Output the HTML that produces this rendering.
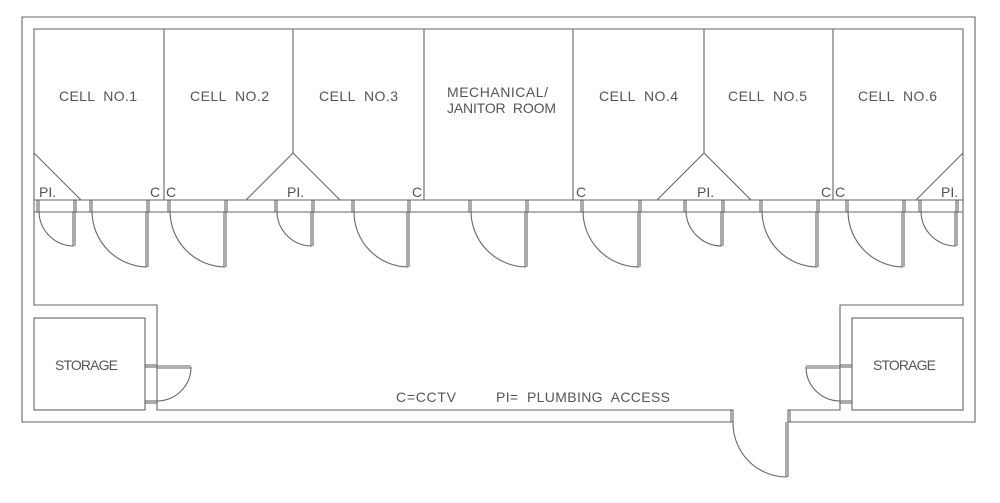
<!DOCTYPE html>
<html><head><meta charset="utf-8"><style>
html,body{margin:0;padding:0;background:#fff;}
svg{display:block;}
text{font-family:"Liberation Sans",sans-serif;fill:#555;font-size:14px;white-space:pre;}
</style></head><body>
<svg width="1000" height="503" viewBox="0 0 1000 503" xmlns="http://www.w3.org/2000/svg">
<g stroke="#666" stroke-width="1.1" fill="none">
<path d="M731,422 H22 V17 H975 V422 H790"/>
<path d="M731,410 H157 V305 H34 V29 H963 V305 H840 V410 H790"/>
<line x1="34" y1="200" x2="963" y2="200"/>
<line x1="34" y1="212" x2="963" y2="212"/>
<line x1="164" y1="29" x2="164" y2="200"/>
<line x1="293" y1="29" x2="293" y2="153"/>
<line x1="424" y1="29" x2="424" y2="200"/>
<line x1="573" y1="29" x2="573" y2="200"/>
<line x1="704" y1="29" x2="704" y2="153"/>
<line x1="833" y1="29" x2="833" y2="200"/>
<path d="M34,153 L81,200"/>
<path d="M246,200 L293,153 L340,200"/>
<path d="M657,200 L704,153 L751,200"/>
<path d="M963,153 L916,200"/>
<rect x="34" y="318" width="111" height="92"/>
<rect x="852" y="318" width="111" height="92"/>
<g>
<rect x="37" y="200" width="2" height="12"/><rect x="74" y="200" width="2" height="12"/><path d="M73,212 V246 M75,212 V246 M39,212 A35 35 0 0 0 74,246"/>
<rect x="90" y="200" width="2" height="12"/><rect x="147" y="200" width="2" height="12"/><path d="M146,212 V267 M148,212 V267 M92,212 A56 56 0 0 0 147,267"/>
<rect x="168" y="200" width="2" height="12"/><rect x="225" y="200" width="2" height="12"/><path d="M224,212 V267 M226,212 V267 M170,212 A56 56 0 0 0 225,267"/>
<rect x="275" y="200" width="2" height="12"/><rect x="312" y="200" width="2" height="12"/><path d="M311,212 V246 M313,212 V246 M277,212 A35 35 0 0 0 312,246"/>
<rect x="352" y="200" width="2" height="12"/><rect x="408" y="200" width="2" height="12"/><path d="M407,212 V267 M409,212 V267 M354,212 A55 55 0 0 0 408,267"/>
<rect x="469" y="200" width="2" height="12"/><rect x="526" y="200" width="2" height="12"/><path d="M525,212 V267 M527,212 V267 M471,212 A56 56 0 0 0 526,267"/>
<rect x="581" y="200" width="2" height="12"/><rect x="639" y="200" width="2" height="12"/><path d="M638,212 V267 M640,212 V267 M583,212 A56 56 0 0 0 639,267"/>
<rect x="684" y="200" width="2" height="12"/><rect x="722" y="200" width="2" height="12"/><path d="M721,212 V246 M723,212 V246 M686,212 A36 36 0 0 0 722,246"/>
<rect x="760" y="200" width="2" height="12"/><rect x="817" y="200" width="2" height="12"/><path d="M816,212 V267 M818,212 V267 M762,212 A56 56 0 0 0 817,267"/>
<rect x="846" y="200" width="2" height="12"/><rect x="903" y="200" width="2" height="12"/><path d="M902,212 V267 M904,212 V267 M848,212 A56 56 0 0 0 903,267"/>
<rect x="919" y="200" width="2" height="12"/><rect x="956" y="200" width="2" height="12"/><path d="M955,212 V246 M957,212 V246 M921,212 A35 35 0 0 0 956,246"/>
</g>
<rect x="145" y="365" width="12" height="2"/><rect x="145" y="401" width="12" height="2"/>
<path d="M157,366 H191 M157,368 H191 M191,367 A34 34 0 0 1 157,401"/>
<rect x="840" y="365" width="12" height="2"/><rect x="840" y="401" width="12" height="2"/>
<path d="M806,366 H840 M806,368 H840 M806,367 A34 34 0 0 0 840,401"/>
<rect x="731" y="410" width="2" height="12"/><rect x="788" y="410" width="2" height="12"/>
<path d="M786,422 V477 M788,422 V477 M733,422 A54 54 0 0 0 787,477"/>
</g>
<g>
<text x="59" y="101" textLength="78" lengthAdjust="spacing">CELL  NO.1</text>
<text x="190" y="101" textLength="79" lengthAdjust="spacing">CELL  NO.2</text>
<text x="319" y="101" textLength="79" lengthAdjust="spacing">CELL  NO.3</text>
<text x="447" y="97" textLength="101" lengthAdjust="spacing">MECHANICAL/</text>
<text x="447" y="113" textLength="109" lengthAdjust="spacing">JANITOR  ROOM</text>
<text x="599" y="101" textLength="79" lengthAdjust="spacing">CELL  NO.4</text>
<text x="728" y="101" textLength="79" lengthAdjust="spacing">CELL  NO.5</text>
<text x="858" y="101" textLength="79" lengthAdjust="spacing">CELL  NO.6</text>
<text x="39" y="197">PI.</text>
<text x="287" y="197">PI.</text>
<text x="697" y="197">PI.</text>
<text x="941" y="197">PI.</text>
<text x="150" y="197">C</text>
<text x="166" y="197">C</text>
<text x="412" y="197">C</text>
<text x="576" y="197">C</text>
<text x="821" y="197">C</text>
<text x="835" y="197">C</text>
<text x="55" y="370" textLength="63" lengthAdjust="spacing">STORAGE</text>
<text x="873" y="370" textLength="63" lengthAdjust="spacing">STORAGE</text>
<text x="396" y="402" textLength="60" lengthAdjust="spacing">C=CCTV</text>
<text x="496" y="402" textLength="174" lengthAdjust="spacing">PI=  PLUMBING  ACCESS</text>
</g>
</svg>
</body></html>
